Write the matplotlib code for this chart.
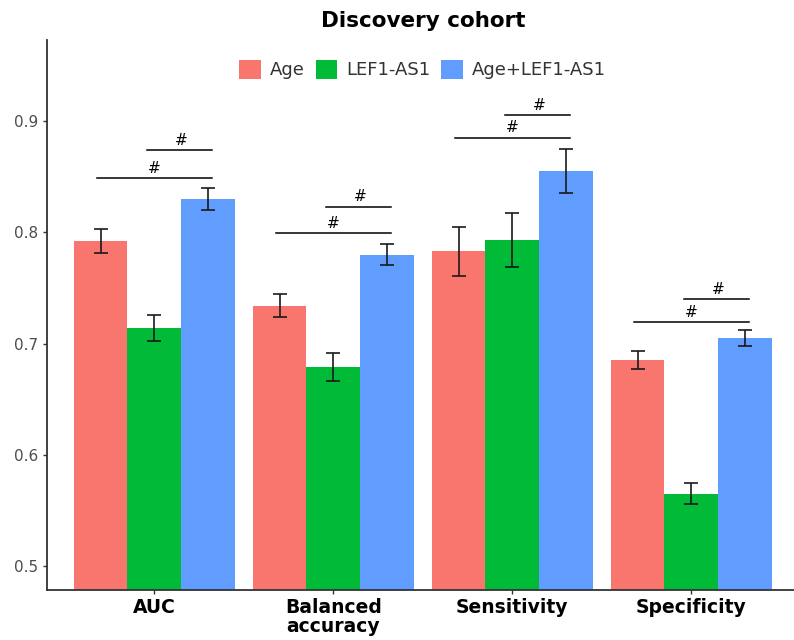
import matplotlib
matplotlib.use("Agg")
import matplotlib.pyplot as plt
import numpy as np

categories = ["AUC", "Balanced\naccuracy", "Sensitivity", "Specificity"]
series = ["Age", "LEF1-AS1", "Age+LEF1-AS1"]
colors = ["#F8766D", "#00BA38", "#619CFF"]

age_vals = [0.792, 0.734, 0.783, 0.685]
age_err = [0.0105, 0.0105, 0.022, 0.008]
lef_vals = [0.714, 0.679, 0.793, 0.565]
lef_err = [0.012, 0.0123, 0.0245, 0.0095]
comb_vals = [0.830, 0.780, 0.855, 0.705]
comb_err = [0.0096, 0.0094, 0.0195, 0.0074]

# significance brackets: (Age vs combined) long line, (LEF1 vs combined) short line
long_line_y = [0.849, 0.799, 0.885, 0.719]
short_line_y = [0.874, 0.823, 0.905, 0.740]
sig_label = "#"

fig = plt.figure(figsize=(7.94, 6.4), dpi=100)
ax = fig.add_axes([0.059, 0.078, 0.947, 0.8595])

x = np.arange(1, len(categories) + 1)
w = 0.3
vals = [age_vals, lef_vals, comb_vals]
errs = [age_err, lef_err, comb_err]
offsets = [-w, 0, w]
for v, e, c, o, s in zip(vals, errs, colors, offsets, series):
    ax.bar(x + o, v, width=w, color=c, label=s, zorder=2)
    ax.errorbar(x + o, v, yerr=e, fmt="none", ecolor="#1a1a1a", elinewidth=1.2,
                capsize=5, capthick=1.2, zorder=3)

for i, xi in enumerate(x):
    ax.plot([xi - w - 0.02, xi + w + 0.02], [long_line_y[i]] * 2, color="black", lw=1.1, zorder=3)
    ax.text(xi, long_line_y[i] + 0.002, sig_label, ha="center", va="bottom", fontsize=11, zorder=4)
    ax.plot([xi - 0.04, xi + w + 0.02], [short_line_y[i]] * 2, color="black", lw=1.1, zorder=3)
    ax.text(xi + w / 2, short_line_y[i] + 0.002, sig_label, ha="center", va="bottom", fontsize=11, zorder=4)

ax.set_xlim(0.4, 4.6)
ax.set_ylim(0.4784, 0.9728)
ax.set_yticks([0.5, 0.6, 0.7, 0.8, 0.9])
ax.set_yticklabels(["0.5", "0.6", "0.7", "0.8", "0.9"])
ax.set_xticks(x)
ax.set_xticklabels(categories, fontsize=13.5, fontweight="bold", color="black", linespacing=1.0)
ax.tick_params(axis="y", labelsize=11, labelcolor="#4D4D4D", color="#333333", length=3, width=1)
ax.tick_params(axis="x", color="#333333", length=3, width=1, pad=3)

for side in ["top", "right"]:
    ax.spines[side].set_visible(False)
for side in ["left", "bottom"]:
    ax.spines[side].set_color("#333333")
    ax.spines[side].set_linewidth(1.3)

ax.set_title("Discovery cohort", fontsize=15.5, fontweight="bold", pad=9.5)

leg = ax.legend(loc="upper center", bbox_to_anchor=(0.5, 0.993), ncol=3, frameon=False,
                fontsize=13, handlelength=1.2, handleheight=1.2, handletextpad=0.5,
                columnspacing=0.6, labelcolor="#333333")

fig.savefig("out.png", dpi=100)
